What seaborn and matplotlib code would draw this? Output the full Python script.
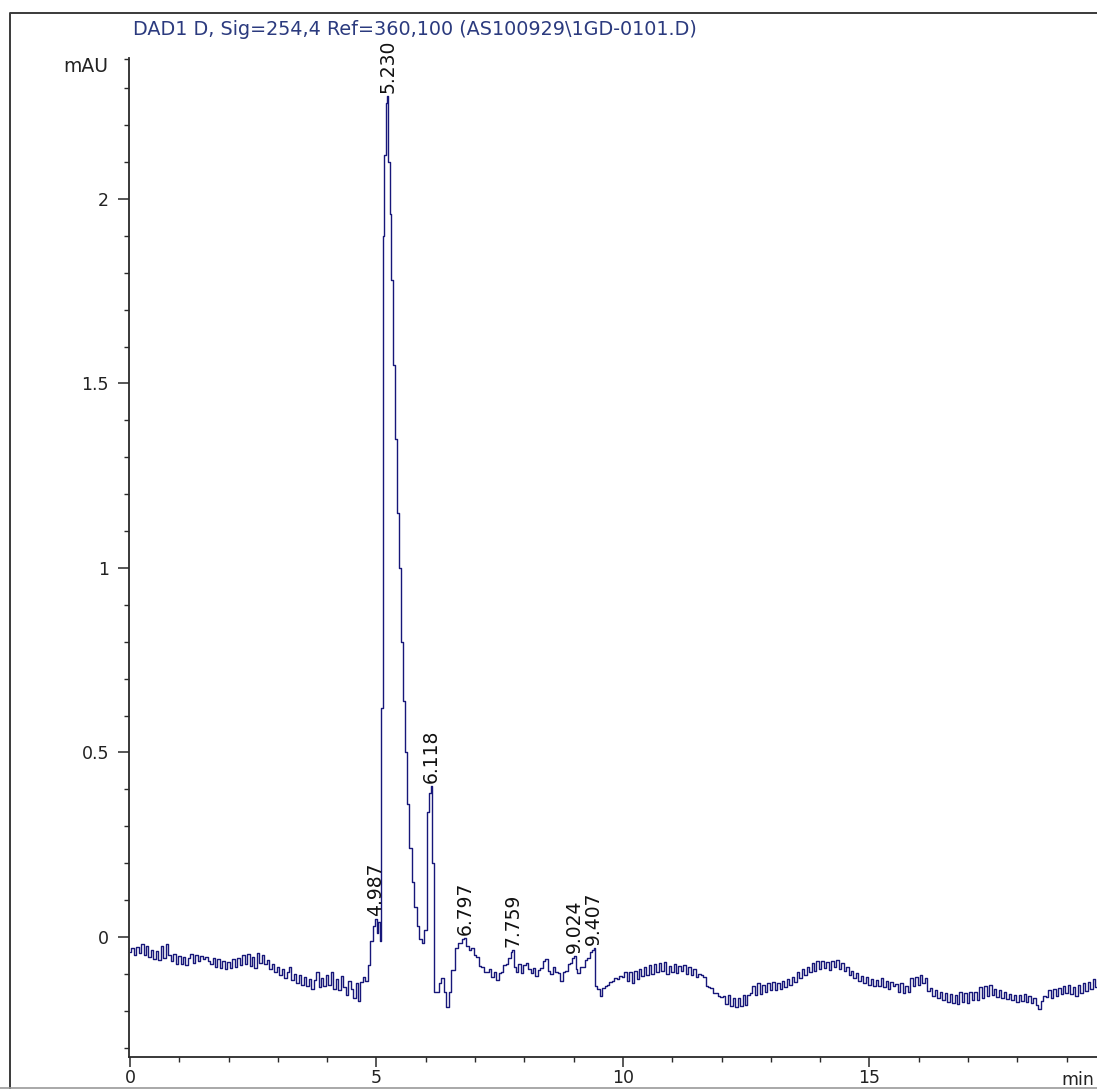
import numpy as np
import pandas as pd
import matplotlib
matplotlib.use("Agg")
import matplotlib.pyplot as plt
from matplotlib.lines import Line2D
from matplotlib.ticker import MultipleLocator, FixedLocator, FuncFormatter
import seaborn as sns

# ---- DAD1 D signal (254 nm), mAU ----
# Baseline before the main peak, sampled every 0.05 min from 0.00 min
base_start_v = [
    -0.042, -0.030, -0.050, -0.026, -0.044, -0.018, -0.048, -0.024, -0.054, -0.036,
    -0.060, -0.038, -0.062, -0.024, -0.056, -0.020, -0.050, -0.066, -0.046, -0.072,
    -0.052, -0.074, -0.054, -0.076, -0.058, -0.046, -0.070, -0.050, -0.066, -0.052,
    -0.060, -0.054, -0.064, -0.072, -0.058, -0.080, -0.060, -0.084, -0.064, -0.086,
    -0.068, -0.084, -0.060, -0.082, -0.056, -0.076, -0.048, -0.072, -0.046, -0.078,
    -0.054, -0.084, -0.044, -0.070, -0.048, -0.074, -0.062, -0.086, -0.074, -0.094,
    -0.082, -0.104, -0.086, -0.112, -0.094, -0.082, -0.116, -0.100, -0.124, -0.104,
    -0.130, -0.108, -0.134, -0.114, -0.140, -0.116, -0.096, -0.136, -0.110, -0.132,
    -0.104, -0.130, -0.096, -0.140, -0.114, -0.144, -0.106, -0.136, -0.156, -0.118,
    -0.142, -0.166, -0.124, -0.174, -0.122, -0.108, -0.118,
]
base_start_t0 = 0.0
sample_step = 0.05

# Main elution window (4.85 - 7.00 min), irregular points
peak_zone_t = [4.85, 4.90, 4.95, 5.02, 5.06, 5.09, 5.11, 5.14, 5.18, 5.21, 5.25,
               5.28, 5.31, 5.35, 5.39, 5.43, 5.47, 5.51, 5.55, 5.59, 5.64, 5.69,
               5.74, 5.79, 5.84, 5.89, 5.94, 5.99, 6.04, 6.08, 6.15, 6.19, 6.24,
               6.29, 6.34, 6.39, 6.44, 6.49, 6.55, 6.62, 6.70, 6.75, 6.85, 6.90,
               6.95, 7.00]
peak_zone_v = [-0.075, -0.010, 0.030, 0.012, 0.040, -0.010, 0.62, 1.90, 2.12, 2.26,
               2.10, 1.96, 1.78, 1.55, 1.35, 1.15, 1.00, 0.80, 0.64, 0.50, 0.36,
               0.24, 0.15, 0.08, 0.03, -0.005, -0.015, 0.02, 0.34, 0.39, 0.20,
               -0.15, -0.15, -0.125, -0.11, -0.15, -0.19, -0.15, -0.09, -0.03,
               -0.015, -0.005, -0.025, -0.035, -0.03, -0.05]

# Baseline after the main peak, sampled every 0.05 min from 7.05 min
base_end_t0 = 7.05
base_end_v = [
    -0.054, -0.078, -0.080, -0.094, -0.096, -0.088, -0.108, -0.094, -0.116, -0.098,
    -0.094, -0.076, -0.074, -0.056, -0.042, -0.082, -0.094, -0.074, -0.098, -0.076,
    -0.070, -0.088, -0.098, -0.084, -0.106, -0.090, -0.084, -0.066, -0.060, -0.092,
    -0.100, -0.082, -0.096, -0.098, -0.118, -0.096, -0.092, -0.072, -0.070, -0.058,
    -0.088, -0.098, -0.082, -0.080, -0.062, -0.058, -0.042, -0.035, -0.132, -0.142,
    -0.160, -0.138, -0.134, -0.130, -0.122, -0.120, -0.112, -0.114, -0.106, -0.108,
    -0.094, -0.119, -0.096, -0.126, -0.091, -0.114, -0.086, -0.106, -0.081, -0.102,
    -0.076, -0.099, -0.074, -0.096, -0.071, -0.092, -0.068, -0.099, -0.078, -0.094,
    -0.072, -0.098, -0.078, -0.092, -0.076, -0.100, -0.082, -0.104, -0.086, -0.108,
    -0.101, -0.102, -0.108, -0.132, -0.136, -0.139, -0.151, -0.152, -0.161, -0.162,
    -0.160, -0.182, -0.158, -0.186, -0.166, -0.190, -0.164, -0.188, -0.158, -0.184,
    -0.156, -0.152, -0.134, -0.156, -0.124, -0.154, -0.131, -0.149, -0.126, -0.144,
    -0.121, -0.144, -0.126, -0.142, -0.118, -0.136, -0.114, -0.129, -0.108, -0.122,
    -0.096, -0.112, -0.088, -0.102, -0.081, -0.094, -0.071, -0.092, -0.066, -0.086,
    -0.064, -0.084, -0.068, -0.089, -0.066, -0.082, -0.061, -0.086, -0.071, -0.092,
    -0.081, -0.104, -0.091, -0.112, -0.098, -0.119, -0.106, -0.124, -0.108, -0.129,
    -0.114, -0.134, -0.116, -0.132, -0.111, -0.136, -0.118, -0.142, -0.121, -0.134,
    -0.128, -0.148, -0.126, -0.152, -0.134, -0.150, -0.112, -0.132, -0.108, -0.130,
    -0.104, -0.126, -0.110, -0.146, -0.138, -0.160, -0.144, -0.166, -0.150, -0.170,
    -0.152, -0.176, -0.154, -0.180, -0.158, -0.182, -0.150, -0.176, -0.152, -0.178,
    -0.150, -0.172, -0.148, -0.170, -0.136, -0.166, -0.132, -0.160, -0.130, -0.158,
    -0.141, -0.162, -0.144, -0.166, -0.148, -0.169, -0.154, -0.172, -0.156, -0.176,
    -0.158, -0.174, -0.154, -0.176, -0.161, -0.179, -0.164, -0.184, -0.196, -0.174,
    -0.161, -0.162, -0.144, -0.164, -0.141, -0.159, -0.138, -0.154, -0.134, -0.152,
    -0.131, -0.154, -0.136, -0.159, -0.131, -0.152, -0.126, -0.146, -0.121, -0.142,
    -0.114, -0.136, -0.111, -0.132, -0.116,
]

# Integrated peaks: retention time (min) and apex height (mAU)
apex_t = [4.987, 5.230, 6.118, 6.797, 7.759, 9.024, 9.407]
apex_v = [0.050, 2.280, 0.410, -0.002, -0.035, -0.052, -0.030]

title_text = "DAD1 D, Sig=254,4 Ref=360,100 (AS100929\\1GD-0101.D)"
y_major = [0, 0.5, 1, 1.5, 2]
x_major = [0, 5, 10, 15, 20]

# ---- assemble the trace ----
t_start = base_start_t0 + sample_step * np.arange(len(base_start_v))
t_end = base_end_t0 + sample_step * np.arange(len(base_end_v))
trace = pd.DataFrame({
    "time": np.concatenate([t_start, peak_zone_t, t_end, apex_t]),
    "mAU": np.concatenate([base_start_v, peak_zone_v, base_end_v, apex_v]),
}).sort_values("time").reset_index(drop=True)

# ---- style ----
sns.set_style("ticks")
plt.rcParams["font.family"] = ["DejaVu Sans"]
AXIS_C = "#2a2a2a"
LINE_C = "#17177a"

W, H = 1097, 1089
fig = plt.figure(figsize=(W / 100, H / 100), dpi=100)
fig.patch.set_facecolor("white")

px = lambda x: x / W
py = lambda y: 1 - y / H

ax = fig.add_axes([px(128.5), py(1057), px(1116) - px(128.5), py(58) - py(1057)])
ax.set_facecolor("white")

sns.lineplot(data=trace, x="time", y="mAU", ax=ax, color=LINE_C, linewidth=1.0,
             drawstyle="steps-mid", estimator=None, sort=True, legend=False)

ax.set_xlim(-0.03, 20.0)
ax.set_ylim(-0.3252, 2.382)

for side in ("top", "right"):
    ax.spines[side].set_visible(False)
for side in ("left", "bottom"):
    ax.spines[side].set_color(AXIS_C)
    ax.spines[side].set_linewidth(1.3)

ax.xaxis.set_major_locator(FixedLocator(x_major))
ax.xaxis.set_minor_locator(MultipleLocator(1))
ax.yaxis.set_major_locator(FixedLocator(y_major))
ax.yaxis.set_minor_locator(FixedLocator(list(np.round(np.arange(-0.3, 2.35, 0.1), 2)) + [2.38]))
ax.yaxis.set_major_formatter(FuncFormatter(lambda v, p: f"{v:g}"))
ax.xaxis.set_major_formatter(FuncFormatter(lambda v, p: "" if v >= 20 else f"{v:g}"))

ax.tick_params(axis="both", which="major", direction="out", width=1.1,
               color=AXIS_C, labelcolor="#222222", labelsize=12.5)
ax.tick_params(axis="y", which="major", length=8, pad=6)
ax.tick_params(axis="x", which="major", length=7, pad=1.5)
ax.tick_params(axis="both", which="minor", direction="out", length=3.8, width=1.0,
               color=AXIS_C)
ax.set_xlabel("")
ax.set_ylabel("")

# retention-time labels above each peak apex
for t, v in zip(apex_t, apex_v):
    ax.annotate(f"{t:.3f}", xy=(t, v), xytext=(0, 2), textcoords="offset points",
                rotation=90, ha="center", va="bottom", fontsize=13.5, color="#111111")

# header, unit and axis-name texts
fig.text(px(133), py(35), title_text, ha="left", va="baseline",
         fontsize=13.8, color="#2b3a7e")
fig.text(px(108), py(72), "mAU", ha="right", va="baseline", fontsize=13.5, color="#222222")
fig.text(px(1094), py(1085), "min", ha="right", va="baseline", fontsize=12.5, color="#222222")

# outer window frame
fig.add_artist(Line2D([px(10), px(10), 1.0], [0.0, py(12.5), py(12.5)],
                      transform=fig.transFigure, color="#3a3a3a", linewidth=1.4))
fig.add_artist(Line2D([0.0, 1.0], [py(1088), py(1088)],
                      transform=fig.transFigure, color="#9a9a9a", linewidth=1.2))

fig.savefig("out.png", dpi=100, facecolor="white")
